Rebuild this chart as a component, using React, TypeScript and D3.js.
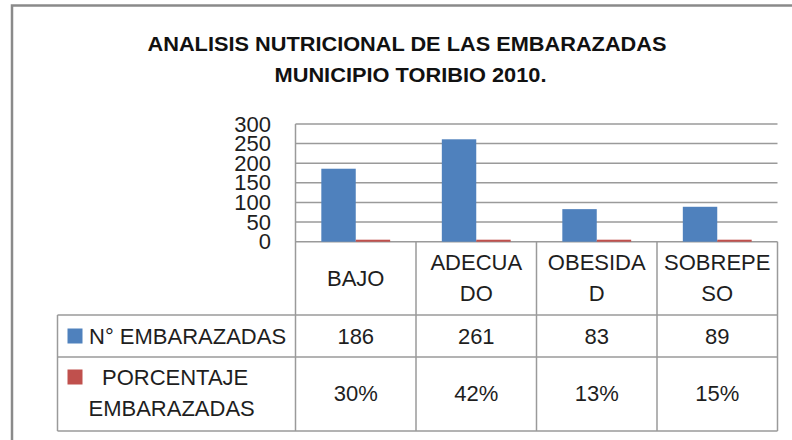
import React, { useEffect, useRef } from "react";
import * as d3 from "d3";

// chart data
const categories = ["BAJO", "ADECUADO", "OBESIDAD", "SOBREPESO"];
const headerLines = [["BAJO"], ["ADECUA", "DO"], ["OBESIDA", "D"], ["SOBREPE", "SO"]];
const embarazadas = [186, 261, 83, 89];
const porcentaje = [30, 42, 13, 15];
const yTicks = [0, 50, 100, 150, 200, 250, 300];
const titleLines = ["ANALISIS NUTRICIONAL DE LAS EMBARAZADAS", "MUNICIPIO TORIBIO 2010."];

const BLUE = "#4F81BD";
const RED = "#C0504D";
const GRID = "#9a9a9a";
const TEXT = "#1e1e1e";
const FONT = "'Liberation Sans', Arial, sans-serif";

const drawChart = (node: SVGSVGElement) => {
  const svg = d3.select(node);
  svg.selectAll("*").remove();

  const W = 792;
  const H = 440;
  const plot = { left: 295.5, right: 777.5, top: 124, bottom: 241.7 };
  const table = { left: 57.5, row1: 315, row2: 357, bottom: 431 };

  svg.append("rect").attr("width", W).attr("height", H).attr("fill", "#fff");

  // outer frame
  svg
    .append("path")
    .attr("d", `M12,${H + 5} V5.5 H${W + 5}`)
    .attr("fill", "none")
    .attr("stroke", "#8a8a8a")
    .attr("stroke-width", 2.5);

  // title
  const title = svg
    .append("g")
    .attr("font-family", FONT)
    .attr("font-weight", "bold")
    .attr("fill", "#111");
  const titleWidths = [519, 272];
  const titleCx = [407, 410.5];
  titleLines.forEach((t, i) => {
    title
      .append("text")
      .attr("x", titleCx[i])
      .attr("y", 43.5 + i * 31)
      .attr("text-anchor", "middle")
      .attr("dominant-baseline", "central")
      .attr("font-size", 21)
      .attr("textLength", titleWidths[i])
      .attr("lengthAdjust", "spacingAndGlyphs")
      .text(t);
  });

  const y = d3.scaleLinear().domain([0, 300]).range([plot.bottom, plot.top]);
  const x = d3.scaleBand<string>().domain(categories).range([plot.left, plot.right]);
  const series = d3
    .scaleBand<string>()
    .domain(["n", "p"])
    .range([0, x.bandwidth()])
    .paddingInner(0)
    .paddingOuter(0.75);

  // gridlines
  svg
    .append("g")
    .selectAll("line")
    .data(yTicks)
    .join("line")
    .attr("x1", plot.left)
    .attr("x2", plot.right)
    .attr("y1", (d) => y(d))
    .attr("y2", (d) => y(d))
    .attr("stroke", GRID)
    .attr("stroke-width", 1.5);

  // y tick labels
  svg
    .append("g")
    .attr("font-family", FONT)
    .attr("font-size", 22)
    .attr("fill", TEXT)
    .selectAll("text")
    .data(yTicks)
    .join("text")
    .attr("x", 271)
    .attr("y", (d) => y(d))
    .attr("text-anchor", "end")
    .attr("dominant-baseline", "central")
    .text((d) => d);

  // bars
  const bars = svg.append("g");
  bars
    .selectAll("rect.n")
    .data(embarazadas)
    .join("rect")
    .attr("class", "n")
    .attr("x", (_, i) => x(categories[i])! + series("n")!)
    .attr("width", series.bandwidth())
    .attr("y", (d) => y(d))
    .attr("height", (d) => y(0) - y(d))
    .attr("fill", BLUE);
  bars
    .selectAll("rect.p")
    .data(porcentaje)
    .join("rect")
    .attr("class", "p")
    .attr("x", (_, i) => x(categories[i])! + series("p")!)
    .attr("width", series.bandwidth())
    .attr("y", (d) => y(0) - Math.max(y(0) - y(d / 100), 2))
    .attr("height", (d) => Math.max(y(0) - y(d / 100), 2))
    .attr("fill", RED);

  // table lines
  const lines = svg.append("g").attr("stroke", GRID).attr("stroke-width", 1.5);
  lines.append("line").attr("x1", plot.left).attr("x2", plot.left).attr("y1", plot.top).attr("y2", table.bottom);
  categories.forEach((c) => {
    const xr = x(c)! + x.bandwidth();
    lines.append("line").attr("x1", xr).attr("x2", xr).attr("y1", plot.bottom).attr("y2", table.bottom);
  });
  [table.row1, table.row2, table.bottom].forEach((yy) => {
    lines.append("line").attr("x1", table.left).attr("x2", plot.right).attr("y1", yy).attr("y2", yy);
  });
  lines.append("line").attr("x1", table.left).attr("x2", table.left).attr("y1", table.row1).attr("y2", table.bottom);

  const txt = svg.append("g").attr("font-family", FONT).attr("font-size", 22).attr("fill", TEXT);

  // header labels
  categories.forEach((c, i) => {
    const cx = x(c)! + x.bandwidth() / 2;
    const ls = headerLines[i];
    const mid = 278;
    ls.forEach((l, j) => {
      txt
        .append("text")
        .attr("x", cx)
        .attr("y", mid + (j - (ls.length - 1) / 2) * 31)
        .attr("text-anchor", "middle")
        .attr("dominant-baseline", "central")
        .text(l);
    });
    txt
      .append("text")
      .attr("x", cx)
      .attr("y", 336)
      .attr("text-anchor", "middle")
      .attr("dominant-baseline", "central")
      .text(embarazadas[i]);
    txt
      .append("text")
      .attr("x", cx)
      .attr("y", 393.5)
      .attr("text-anchor", "middle")
      .attr("dominant-baseline", "central")
      .text(`${porcentaje[i]}%`);
  });

  // legend keys in table
  svg.append("rect").attr("x", 67.5).attr("y", 328.5).attr("width", 15).attr("height", 15).attr("fill", BLUE);
  svg.append("rect").attr("x", 67.5).attr("y", 369.5).attr("width", 15).attr("height", 15).attr("fill", RED);
  txt.append("text").attr("x", 89).attr("y", 336).attr("dominant-baseline", "central").text("N° EMBARAZADAS");
  txt.append("text").attr("x", 102).attr("y", 377).attr("dominant-baseline", "central").text("PORCENTAJE");
  txt.append("text").attr("x", 88.5).attr("y", 408).attr("dominant-baseline", "central").text("EMBARAZADAS");
};

export default function App() {
  const ref = useRef<SVGSVGElement>(null);
  useEffect(() => {
    if (ref.current) drawChart(ref.current);
  }, []);
  return (
    <svg
      ref={ref}
      width={792}
      height={440}
      style={{ position: "absolute", left: 0, top: 0, display: "block" }}
    />
  );
}
